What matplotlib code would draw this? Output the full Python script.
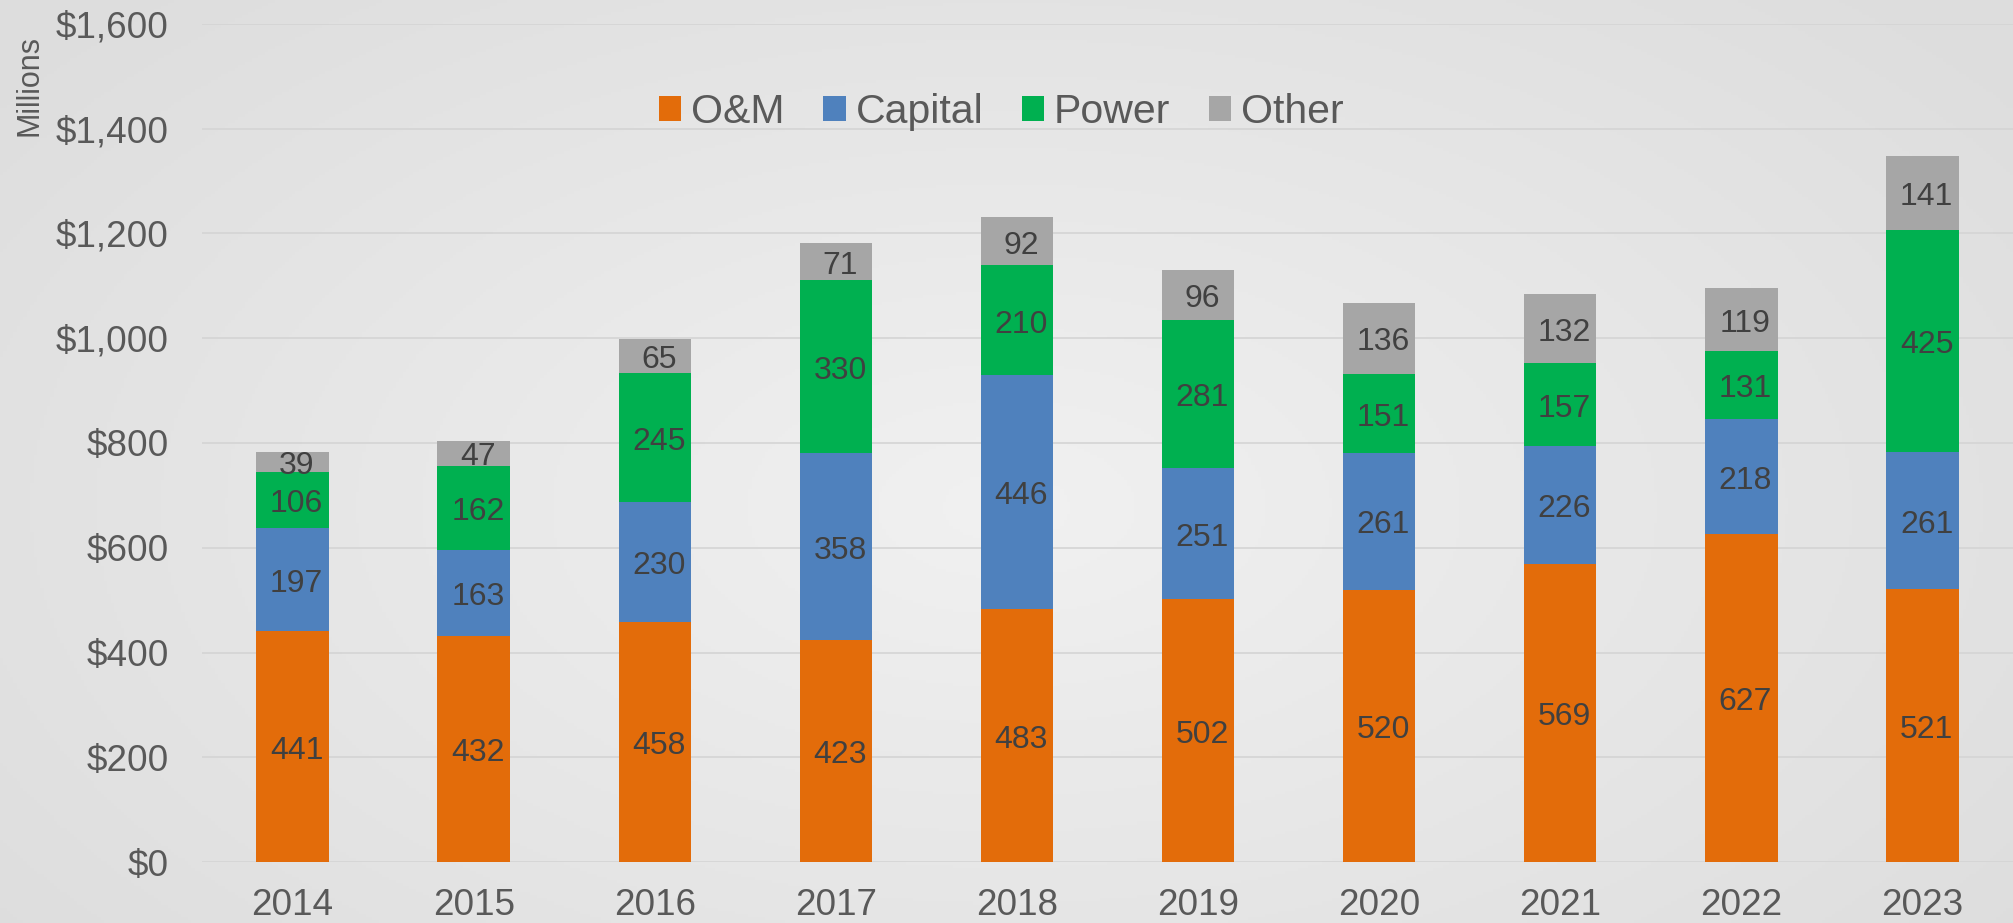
import numpy as np
import matplotlib
matplotlib.use("Agg")
import matplotlib.pyplot as plt

years = ["2014", "2015", "2016", "2017", "2018", "2019", "2020", "2021", "2022", "2023"]
om = [441, 432, 458, 423, 483, 502, 520, 569, 627, 521]
capital = [197, 163, 230, 358, 446, 251, 261, 226, 218, 261]
power = [106, 162, 245, 330, 210, 281, 151, 157, 131, 425]
other = [39, 47, 65, 71, 92, 96, 136, 132, 119, 141]
series_names = ["O&M", "Capital", "Power", "Other"]
colors = ["#E36C0A", "#4F81BD", "#00B050", "#A6A6A6"]
yticks = [0, 200, 400, 600, 800, 1000, 1200, 1400, 1600]

plt.rcParams['font.family'] = ['Liberation Sans', 'DejaVu Sans']

W, H = 2013, 923
fig = plt.figure(figsize=(W / 100, H / 100), dpi=100)

# radial gradient background
bg = fig.add_axes([0, 0, 1, 1], zorder=-10)
yy, xx = np.mgrid[0:1:300j, 0:1:600j]
r = np.sqrt(((xx - 0.5) / 0.62) ** 2 + ((yy - 0.45) / 0.75) ** 2)
r = np.clip(r, 0, 1)
val = 0.945 - 0.075 * r
img = np.dstack([val, val, val])
bg.imshow(img, aspect='auto', extent=[0, 1, 0, 1], origin='lower')
bg.set_axis_off()

left = 202 / W
bottom = (H - 862) / H
top = (H - 24) / H
ax = fig.add_axes([left, bottom, 1 - left, top - bottom])
ax.patch.set_alpha(0)

x = np.arange(len(years))
data = [om, capital, power, other]
base = np.zeros(len(years))
handles = []
for name, vals, c in zip(series_names, data, colors):
    vals = np.array(vals, dtype=float)
    b = ax.bar(x, vals, width=0.40, bottom=base, color=c, label=name, zorder=3)
    handles.append(b)
    for xi, v, bo in zip(x, vals, base):
        ax.annotate(f"{int(v)}", (xi, bo + v / 2), xytext=(3, -3), textcoords='offset points',
                    ha='center', va='center', fontsize=23, color='#404040', zorder=5)
    base = base + vals

ax.set_xlim(-0.5, len(years) - 0.5)
ax.set_ylim(0, 1600)
ax.set_yticks(yticks)
ax.set_yticklabels([f"${v:,}" for v in yticks])
ax.set_xticks(x)
ax.set_xticklabels(years)
ax.tick_params(axis='y', length=0, pad=24, labelsize=26.6, labelcolor='#595959')
ax.tick_params(axis='x', length=0, pad=19, labelsize=26.6, labelcolor='#595959')
for s in ax.spines.values():
    s.set_visible(False)
ax.yaxis.grid(True, color='#d4d4d4', linewidth=1.2, zorder=0)
ax.set_axisbelow(True)

fig.text(29 / W, 1 - 85 / H, "Millions", rotation=90, ha='center', va='center',
         fontsize=22, color='#595959')

fig.legend(handles=handles, labels=series_names, loc='center',
           bbox_to_anchor=(1001.5 / W, 1 - 112 / H), ncol=4, frameon=False,
           fontsize=29.5, handlelength=0.54, handleheight=0.54, handletextpad=0.24,
           columnspacing=0.95, labelcolor='#595959', borderpad=0, borderaxespad=0)

fig.savefig("out.png", dpi=100)
